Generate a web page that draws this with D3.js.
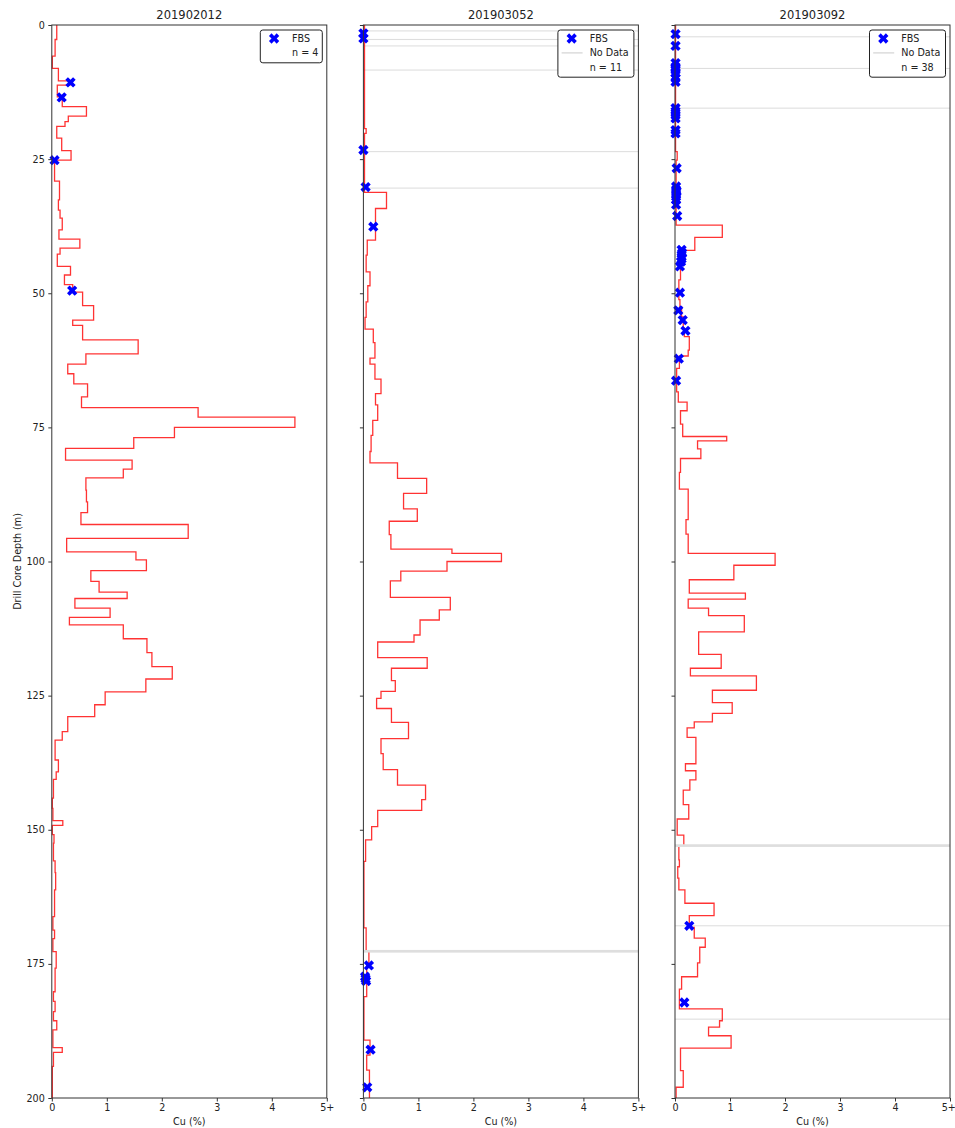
<!DOCTYPE html>
<html>
<head>
<meta charset="utf-8">
<script src="https://cdn.jsdelivr.net/npm/d3@7"></script>
<style>
  body { margin: 0; background: #fff; }
  text { font-family: "DejaVu Sans", sans-serif; fill: #222; }
</style>
</head>
<body>
<div id="chart"></div>
<script>
// hole ids (panel titles)
let holes = ["201902012", "201903052", "201903092"];
let xTicks = [0, 1, 2, 3, 4, 5];
let xTickLabels = ["0", "1", "2", "3", "4", "5+"];
let yTicks = [0, 25, 50, 75, 100, 125, 150, 175, 200];

// interval boundaries (m) and Cu (%) per interval, null = no data
let depth1 = [0, 2.7, 5.8, 8.1, 10.4, 11.2, 13.4, 15.2, 17, 18, 18.9, 21.1, 23.4, 25.2, 29.1, 32.6, 34.5, 36, 38.2, 39.9,
    41.6, 42.7, 45, 46.6, 48.4, 49.8, 52.3, 55, 56, 58.7, 61.3, 63.2, 65, 66.9, 69.3, 71.3, 73.1, 75, 76.9, 78.9,
    81.1, 82.8, 84.4, 86.7, 88.9, 90.9, 93.1, 95.7, 98.2, 99.7, 101.7, 103.7, 105.7, 106.9, 108.7, 110.4, 111.8, 114.4, 117, 119.6,
    121.9, 124.3, 126.7, 128.9, 131.7, 133.3, 137, 139.2, 140.6, 144.1, 146, 148.3, 149.2, 150.9, 152.5, 155.8, 158, 161.2, 166.2, 168.7,
    170.3, 172.7, 175.8, 177.9, 180.2, 182, 183.9, 185.6, 187.3, 190.6, 191.5, 194.1, 200];
let cu1 = [0.09, 0.06, 0.01, 0.12, 0.33, 0.10, 0.19, 0.63, 0.30, 0.24, 0.09, 0.18, 0.35, 0.05, 0.14, 0.12, 0.15, 0.19, 0.13,
    0.51, 0.15, 0.10, 0.34, 0.23, 0.38, 0.56, 0.76, 0.38, 0.56, 1.57, 0.62, 0.29, 0.40, 0.65, 0.54, 2.66, 4.42, 2.23, 1.49,
    0.25, 1.46, 1.30, 0.62, 0.63, 0.65, 0.53, 2.48, 0.27, 1.53, 1.72, 0.71, 0.86, 1.37, 0.42, 1.06, 0.32, 1.30, 1.73, 1.82,
    2.19, 1.71, 0.97, 0.78, 0.29, 0.19, 0.06, 0.12, 0.08, 0.03, 0.01, 0.02, 0.20, 0.01, 0.04, 0.03, 0.06, 0.07, 0.05, 0.02,
    0.05, 0.02, 0.08, 0.06, 0.06, 0.03, 0.06, 0.03, 0.09, 0.02, 0.19, 0.03, 0.01];

let depth2 = [0, 19.3, 20.2, 31.2, 34.2, 40.1, 42.9, 46, 48.6, 51.6, 54.5, 56.7, 59.2, 62.1, 63.2, 66, 68.7, 70.8, 73.7, 76.5,
    79.5, 81.6, 84.5, 87.3, 90.2, 92.5, 95, 97.7, 98.5, 100, 101.8, 103.6, 106.7, 109, 110.9, 113.7, 115, 117.9, 119.9, 122.2,
    124.2, 125.5, 127.4, 130, 133, 135.8, 138.8, 141.7, 144.4, 146.4, 149.4, 151.9, 155.9, 168.3, 172.4, 172.9, 174.8, 181.1, 189.2, 192,
    194.8, 200];
let cu2 = [0.02, 0.05, 0.02, 0.42, 0.22, 0.07, 0.05, 0.12, 0.08, 0.05, 0.03, 0.18, 0.21, 0.12, 0.21, 0.32, 0.22, 0.26, 0.17,
    0.14, 0.12, 0.62, 1.15, 0.73, 0.98, 0.47, 0.50, 1.61, 2.51, 1.52, 0.68, 0.49, 1.58, 1.38, 1.03, 0.92, 0.26, 1.16, 0.51,
    0.58, 0.32, 0.24, 0.51, 0.82, 0.32, 0.36, 0.62, 1.13, 1.06, 0.26, 0.15, 0.04, 0.01, 0.05, null, 0.10, 0.06, 0.01, 0.12,
    0.06, 0.11];

let depth3 = [0, 23.6, 25.2, 37.3, 39.6, 42, 45, 47.5, 51.2, 52.5, 54.4, 56.5, 58.1, 60.6, 61.7, 64, 68.4, 70.3, 71.9, 74.4,
    76.7, 77.5, 79, 80.8, 83.4, 86.5, 92.2, 94.9, 98.5, 100.7, 103.4, 105.9, 107, 108.7, 110.1, 113.1, 117.3, 119.9, 121.3, 124,
    126.3, 128.3, 129.9, 131, 132.8, 137.7, 139, 140.7, 142.6, 145.3, 148, 151, 152.7, 153.2, 155.6, 156.9, 159, 161.2, 163.7, 166,
    168.2, 170.2, 171.9, 174.8, 177.4, 179.7, 183.4, 185.6, 186.8, 188.4, 190.7, 194.9, 198, 200];
let cu3 = [0.01, 0.04, 0.02, 0.86, 0.36, 0.12, 0.10, 0.07, 0.09, 0.12, 0.15, 0.17, 0.26, 0.24, 0.08, 0.03, 0.06, 0.22, 0.10,
    0.14, 0.94, 0.41, 0.47, 0.10, 0.08, 0.24, 0.20, 0.24, 1.82, 1.07, 0.26, 1.28, 0.24, 0.61, 1.26, 0.43, 0.84, 0.28, 1.48,
    0.68, 1.04, 0.68, 0.35, 0.22, 0.38, 0.19, 0.38, 0.27, 0.15, 0.25, 0.04, 0.16, null, 0.07, 0.08, 0.05, 0.07, 0.18, 0.71,
    0.26, 0.35, 0.55, 0.45, 0.41, 0.12, 0.08, 0.86, 0.81, 0.61, 1.02, 0.10, 0.15, 0.02];

// no data depth intervals (m)
let noData1 = [];
let noData2 = [[1.0, 1.2], [2.6, 2.8], [3.8, 4.0], [8.3, 8.5], [23.5, 23.7], [30.3, 30.5], [172.4, 172.9]];
let noData3 = [[2.1, 2.3], [8.0, 8.2], [15.4, 15.6], [152.7, 153.2], [167.8, 168.0], [185.2, 185.4]];

// FBS samples: depth (m), Cu (%)
let fbsDepth1 = [10.7, 13.5, 25.2, 49.5];
let fbsCu1 = [0.34, 0.18, 0.05, 0.37];
let fbsDepth2 = [1.55, 2.5, 23.3, 30.2, 37.6, 175.3, 177.4, 177.8, 178.2, 191, 198];
let fbsCu2 = [0.0, 0.0, 0.0, 0.04, 0.18, 0.10, 0.03, 0.04, 0.05, 0.13, 0.07];
let fbsDepth3 = [1.7, 3.9, 7.1, 7.8, 8.1, 8.4, 9.0, 9.9, 10.6, 15.5, 16.1, 16.8, 17.4, 19.6, 20.2, 26.7, 30.1, 30.7, 31.0,
    31.4, 32, 32.6, 33.5, 35.6, 41.9, 42.5, 43.2, 43.6, 44.1, 45, 49.9, 53.2, 55, 57, 62.2, 66.3, 167.9, 182.2];
let fbsCu3 = [0.01, 0.01, 0.01, 0.01, 0.01, 0.01, 0.01, 0.01, 0.01, 0.01, 0.01, 0.01, 0.01, 0.01, 0.01, 0.03, 0.02, 0.02, 0.03,
    0.02, 0.02, 0.02, 0.02, 0.04, 0.12, 0.13, 0.12, 0.12, 0.11, 0.09, 0.09, 0.06, 0.14, 0.19, 0.07, 0.02, 0.26, 0.17];

let panels = [
    {title: holes[0], depth: depth1, cu: cu1, noData: noData1, fbsDepth: fbsDepth1, fbsCu: fbsCu1},
    {title: holes[1], depth: depth2, cu: cu2, noData: noData2, fbsDepth: fbsDepth2, fbsCu: fbsCu2},
    {title: holes[2], depth: depth3, cu: cu3, noData: noData3, fbsDepth: fbsDepth3, fbsCu: fbsCu3}
];

function config(){
    let width = 955;
    let height = 1128;
    let top = 25;
    let plotH = 1073;
    let plotW = 275;
    let lefts = [51.8, 363.4, 675];
    let svg = d3.select("#chart").append("svg")
        .attr("width", width)
        .attr("height", height);
    return {width, height, top, plotH, plotW, lefts, svg};
}

function drawPanel(p, i, cfg){
    let {svg, top, plotH, plotW, lefts} = cfg;
    let g = svg.append("g").attr("transform", "translate(" + [lefts[i], top] + ")");
    let x = d3.scaleLinear().domain([0, 5]).range([0, plotW]);
    let y = d3.scaleLinear().domain([0, 200]).range([0, plotH]);

    // no data lines
    g.selectAll(".nodata")
        .data(p.noData)
        .enter()
        .append("rect")
        .attr("x", 0)
        .attr("width", plotW)
        .attr("y", d => y(d[0]))
        .attr("height", d => Math.max(1, y(d[1]) - y(d[0])))
        .style("fill", "#d3d3d3")
        .style("opacity", 0.75);

    // step line
    let pts = [];
    p.cu.forEach((v, k) => {
        pts.push({v: v, d: p.depth[k]});
        pts.push({v: v, d: p.depth[k + 1]});
    });
    let line = d3.line()
        .defined(d => d.v != null)
        .x(d => x(d.v))
        .y(d => y(d.d));
    g.append("path")
        .attr("d", line(pts))
        .style("fill", "none")
        .style("stroke", "#ff0000")
        .style("stroke-opacity", 0.8)
        .style("stroke-width", 1.3);

    // FBS markers
    let xMark = d3.symbol().type(d3.symbolCross).size(66);
    g.selectAll(".fbs")
        .data(p.fbsDepth)
        .enter()
        .append("path")
        .attr("d", xMark)
        .attr("transform", (d, k) => "translate(" + [x(p.fbsCu[k]), y(d)] + ") rotate(45)")
        .style("fill", "#0000ff");

    // axes
    let ax = d3.axisBottom(x).tickValues(xTicks).tickFormat((d, k) => xTickLabels[k])
        .tickSizeInner(3.5).tickSizeOuter(0).tickPadding(3);
    let gx = g.append("g").attr("transform", "translate(0," + plotH + ")").call(ax);
    let ay = d3.axisLeft(y).tickValues(yTicks).tickSizeInner(3.5).tickSizeOuter(0).tickPadding(3.5);
    if (i > 0) ay.tickFormat("");
    let gy = g.append("g").call(ay);
    [gx, gy].forEach(a => {
        a.select(".domain").remove();
        a.selectAll("line").style("stroke", "#333");
        a.selectAll("text").style("font-size", "9.6px").style("fill", "#222")
            .style("font-family", "DejaVu Sans, sans-serif");
    });

    // frame
    g.append("rect")
        .attr("width", plotW)
        .attr("height", plotH)
        .style("fill", "none")
        .style("stroke", "#333")
        .style("stroke-width", 1);

    g.append("text")
        .attr("x", plotW / 2)
        .attr("y", -6)
        .attr("text-anchor", "middle")
        .style("font-size", "11.5px")
        .text(p.title);

    g.append("text")
        .attr("x", plotW / 2)
        .attr("y", plotH + 27)
        .attr("text-anchor", "middle")
        .style("font-size", "9.6px")
        .text("Cu (%)");

    // legend
    let rows = [{kind: "marker", label: "FBS"}];
    if (p.noData.length) rows.push({kind: "line", label: "No Data"});
    rows.push({kind: "none", label: "n = " + p.fbsDepth.length});
    let boxW = p.noData.length ? 76 : 62;
    let boxH = 4 + rows.length * 14.4;
    let lg = g.append("g").attr("transform", "translate(" + [plotW - 4.5 - boxW, 5] + ")");
    lg.append("rect")
        .attr("width", boxW)
        .attr("height", boxH)
        .attr("rx", 2.5)
        .style("fill", "#fff")
        .style("stroke", "#222")
        .style("stroke-width", 1);
    rows.forEach((r, k) => {
        let cy = 8.5 + k * 14.4;
        if (r.kind == "marker") {
            lg.append("path").attr("d", xMark)
                .attr("transform", "translate(" + [13.8, cy] + ") rotate(45)")
                .style("fill", "#0000ff");
        } else if (r.kind == "line") {
            lg.append("line").attr("x1", 3.7).attr("x2", 24.7).attr("y1", cy).attr("y2", cy)
                .style("stroke", "#d3d3d3").style("stroke-width", 1.2);
        }
        lg.append("text")
            .attr("x", 31.8)
            .attr("y", cy + 3.5)
            .style("font-size", "9.6px")
            .text(r.label);
    });
}

let cfg = config();
panels.forEach((p, i) => drawPanel(p, i, cfg));

// keep the last "5+" label inside the page edge
cfg.svg.selectAll(".tick text").filter(function(){
    return this.getBoundingClientRect().right > cfg.width;
}).attr("text-anchor", "end").attr("dx", "0.55em");

cfg.svg.append("text")
    .attr("transform", "translate(20.5," + (cfg.top + cfg.plotH / 2) + ") rotate(-90)")
    .attr("text-anchor", "middle")
    .style("font-size", "9.6px")
    .text("Drill Core Depth (m)");
</script>
</body>
</html>
